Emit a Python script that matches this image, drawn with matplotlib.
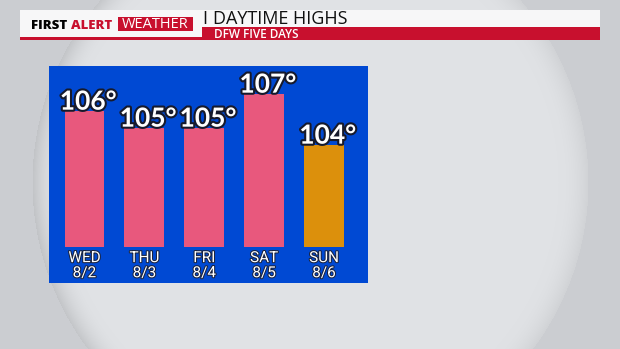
import numpy as np
import matplotlib
matplotlib.use("Agg")
from matplotlib import pyplot as plt
from matplotlib import patheffects as pe
from matplotlib.patches import Rectangle
from matplotlib import font_manager

days = ["WED", "THU", "FRI", "SAT", "SUN"]
dates = ["8/2", "8/3", "8/4", "8/5", "8/6"]
highs = [106, 105, 105, 107, 104]

# styling
bar_colors = ["#e8587d", "#e8587d", "#e8587d", "#e8587d", "#dc900c"]
panel_blue = "#0049d3"
red = "#c8102e"
W, H = 620, 349

installed = {f.name for f in font_manager.fontManager.ttflist}
narrow = "Liberation Sans Narrow" if "Liberation Sans Narrow" in installed else "Roboto"

fig = plt.figure(figsize=(W / 100, H / 100), dpi=100)

#helper: pixel box (from top-left) -> figure fraction
def px(x0, y0, x1, y1):
  return (x0 / W, 1 - y1 / H, (x1 - x0) / W, (y1 - y0) / H)

# background: grey with a big pale disc
bg = fig.add_axes([0, 0, 1, 1])
yy, xx = np.mgrid[0:H, 0:W]
cx, cy, R = 310, 182, 278
r = np.hypot(xx - cx, yy - cy)
outside = np.array([203, 205, 209]) / 255
inside = np.array([224, 226, 229]) / 255
img = np.where((r < R)[..., None], inside, outside)
band = np.clip((r - (R - 30)) / 30, 0, 1) * (r < R)
side = 0.5 + 0.5 * np.clip(-(xx - cx) / R, 0, 1)
img = img - (band ** 2 * side * 0.12)[..., None]
bg.imshow(np.clip(img, 0, 1), extent=(0, W, H, 0), aspect="auto")
bg.axis("off")

# header strip
def box(x0, y0, x1, y1, color):
  l, b, w, h = px(x0, y0, x1, y1)
  fig.patches.append(Rectangle((l, b), w, h, transform=fig.transFigure,
                               facecolor=color, edgecolor="none", zorder=2))

box(20, 10, 600, 40, "#f7f7f8")
box(20, 37, 202, 40, red)
box(202, 27.5, 600, 40, red)
box(118, 17, 193, 31, red)

def ftext(x, y, s, **kw):
  fig.text(x / W, 1 - y / H, s, zorder=3, **kw)

ftext(31, 29, "FIRST", fontsize=9.5, fontweight="heavy", color="black",
      family="Open Sans")
ftext(71, 29, "ALERT", fontsize=9.5, fontweight="heavy", color=red,
      family="Open Sans")
ftext(155.5, 24.5, "WEATHER", fontsize=10.5, color="white", family="Open Sans",
      ha="center", va="center")
ftext(202, 24.5, "I", fontsize=13, color="#111111", family="Open Sans")
ftext(213, 24.5, "DAYTIME HIGHS", fontsize=13, color="#111111", family="Open Sans")
ftext(214, 38.5, "DFW FIVE DAYS", fontsize=8.5, color="white", family="Open Sans",
      fontweight="semibold")

# blue panel with bars
ax = fig.add_axes(px(49, 66, 368, 283))
ax.set_facecolor(panel_blue)
base = 98
x = np.arange(len(highs))
ax.bar(x, np.array(highs) - base, bottom=base, width=0.667, color=bar_colors)
ax.set_xlim(-0.593, 4.735)
ax.set_ylim(95.88, 108.65)
for s in ax.spines.values():
  s.set_visible(False)
ax.set_xticks([])
ax.set_yticks([])

glow = [pe.withStroke(linewidth=3, foreground="#161a2c")]
for i, v in enumerate(highs):
  ax.text(i + 0.06, v + 0.08, f"{v}°", ha="center", va="baseline",
          fontsize=19, color="white", family="Lato", fontweight="bold",
          path_effects=glow)
  ax.text(i, 96.9, f"{days[i]}\n{dates[i]}", ha="center", va="center",
          fontsize=11, color="white", family=narrow, linespacing=1.1,
          path_effects=[pe.withStroke(linewidth=1.5, foreground="#1b2440")])

fig.savefig("out.png", dpi=100)
